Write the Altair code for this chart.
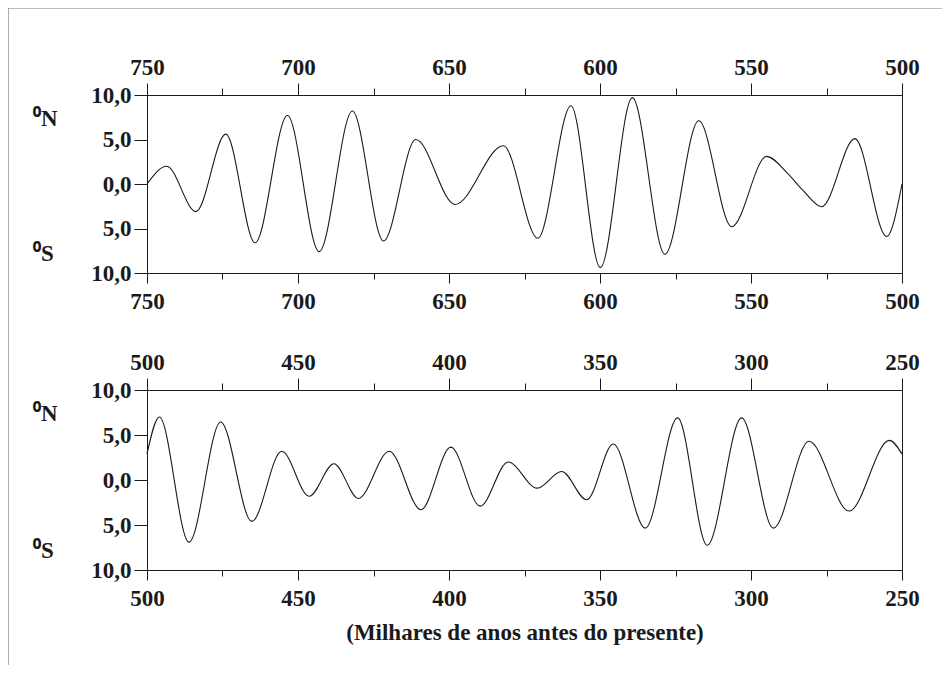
import altair as alt
import pandas as pd

# ---------------- data ----------------
# Panel 1: 750 - 500 thousand years before present
age_1 = [750.0, 743.5, 733.8, 723.9, 714.2, 703.5, 693.0, 682.0, 671.7, 661.0,
         648.0, 632.0, 620.6, 609.6, 599.9, 589.3, 578.5, 567.3, 556.4, 544.8,
         538.2, 532.7, 526.6, 515.6, 505.1, 500.0]
lat_1 = [0.0, 2.0, -3.1, 5.6, -6.6, 7.7, -7.6, 8.2, -6.4, 5.0,
         -2.3, 4.3, -6.1, 8.8, -9.4, 9.7, -7.9, 7.1, -4.8, 3.1,
         1.3, -0.75, -2.55, 5.1, -5.9, 0.0]

# Panel 2: 500 - 250 thousand years before present
age_2 = [500.0, 495.9, 486.1, 475.6, 465.3, 455.4, 446.3, 438.1, 430.0, 419.8,
         409.3, 399.4, 389.7, 380.4, 370.8, 362.7, 354.4, 345.6, 335.0, 324.3,
         314.5, 303.1, 292.6, 280.8, 267.5, 254.2, 250.0]
lat_2 = [2.9, 7.0, -6.9, 6.45, -4.6, 3.2, -1.8, 1.8, -2.05, 3.2,
         -3.3, 3.65, -2.9, 2.0, -0.9, 0.95, -2.2, 4.0, -5.35, 6.9,
         -7.25, 6.9, -5.35, 4.3, -3.45, 4.4, 2.9]

major_1 = [750, 700, 650, 600, 550, 500]
minor_1 = [725, 675, 625, 575, 525]
major_2 = [500, 450, 400, 350, 300, 250]
minor_2 = [475, 425, 375, 325, 275]

y_ticks = [-10, -5, 0, 5, 10]
hemi_labels = ["\u2070N", "\u2070S"]
hemi_pos = [7.3, -7.9]
x_title = "(Milhares de anos antes do presente)"

# ---------------- style ----------------
FONT = "Liberation Serif"
INK = "#1a1a1a"
FRAME = "#7a7a7a"
FS = 23


def xaxis(orient, values, size, labels, pad, title=None):
    kw = dict(orient=orient, values=values, tickSize=size, labels=labels,
              labelPadding=pad, labelFlush=False, labelOverlap=False, grid=False,
              domain=True)
    if title:
        kw.update(title=title, titlePadding=11, titleFont=FONT, titleFontSize=FS,
                  titleFontWeight="bold", titleColor=INK)
    else:
        kw["title"] = None
    return alt.Axis(**kw)


def panel(age, lat, major, minor, h, title=None, frame=False):
    df = pd.DataFrame({"age": age, "lat": lat})
    xs = alt.Scale(domain=[min(major), max(major)], reverse=True, nice=False, zero=False)
    ys = alt.Scale(domain=[-10, 10], nice=False, zero=False)
    ylab = "replace(format(abs(datum.value), '.1f'), '.', ',')"
    y_axis = alt.Axis(values=y_ticks, labelExpr=ylab, tickSize=13,
                      labelPadding=3, title=None, grid=False)
    y_main = alt.Y("lat:Q", scale=ys, axis=y_axis)

    base = alt.Chart(df)
    line = base.mark_line(interpolate="monotone", color=INK, strokeWidth=1.1).encode(
        x=alt.X("age:Q", scale=xs, axis=xaxis("bottom", major, 10, True, 7, title)),
        y=y_main,
    )
    g1 = base.mark_line(opacity=0).encode(
        x=alt.X("age:Q", scale=xs, axis=xaxis("bottom", minor, 6, False, 0)), y=y_main)
    g2 = base.mark_line(opacity=0).encode(
        x=alt.X("age:Q", scale=xs, axis=xaxis("top", major, 12, True, 4)), y=y_main)
    g3 = base.mark_line(opacity=0).encode(
        x=alt.X("age:Q", scale=xs, axis=xaxis("top", minor, 7, False, 0)), y=y_main)

    hemi = alt.Chart(pd.DataFrame({"lab": hemi_labels, "lat": hemi_pos})).mark_text(
        align="left", baseline="middle", font=FONT, fontSize=FS, fontWeight="bold",
        color=INK).encode(x=alt.value(-114), y=y_main, text="lab:N")

    layers = [line, g1, g2, g3, hemi]
    if frame:
        one = pd.DataFrame({"k": [0]})
        top = alt.Chart(one).mark_rule(color=FRAME, strokeWidth=1.2).encode(
            x=alt.value(-139), x2=alt.value(795), y=alt.value(-87))
        left = alt.Chart(one).mark_rule(color=FRAME, strokeWidth=1.2).encode(
            x=alt.value(-139), y=alt.value(-87), y2=alt.value(570))
        layers += [top, left]

    return alt.layer(*layers).resolve_axis(x="independent").properties(width=755, height=h)


p1 = panel(age_1, lat_1, major_1, minor_1, 178, frame=True)
p2 = panel(age_2, lat_2, major_2, minor_2, 180, title=x_title)

chart = alt.vconcat(p1, p2, spacing=117, bounds="flush").properties(
    padding={"left": -2, "top": -2, "right": 0, "bottom": 0},
    background="white",
).configure_view(
    stroke=INK, strokeWidth=1
).configure_axis(
    labelFont=FONT, labelFontSize=FS, labelFontWeight="bold", labelColor=INK,
    tickColor=INK, domainColor=INK, tickWidth=1, domainWidth=1
)

chart.save("out.html", embed_options={"renderer": "svg", "actions": False})
